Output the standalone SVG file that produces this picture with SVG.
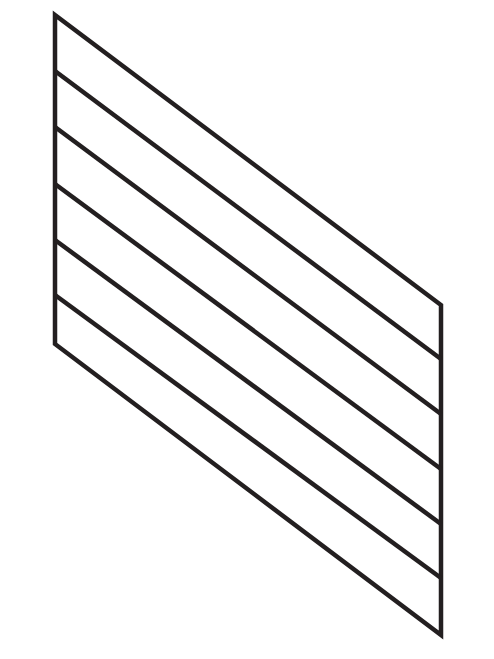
<svg xmlns="http://www.w3.org/2000/svg" width="494" height="659" viewBox="0 0 494 659">
<style>.l{stroke:#231f20;stroke-width:4.5;fill:none;stroke-linejoin:miter;stroke-linecap:butt}</style>
<rect width="494" height="659" fill="#fff"/>
<g id="frame">
<polygon class="l" points="55,15 441,305 441,635 55,344"/>
</g>
<g id="lines">
<line class="l" x1="55" y1="71" x2="441" y2="359"/>
<line class="l" x1="55" y1="127" x2="441" y2="414"/>
<line class="l" x1="55" y1="184" x2="441" y2="469"/>
<line class="l" x1="55" y1="240" x2="441" y2="524"/>
<line class="l" x1="55" y1="295" x2="441" y2="578"/>
</g>
</svg>
